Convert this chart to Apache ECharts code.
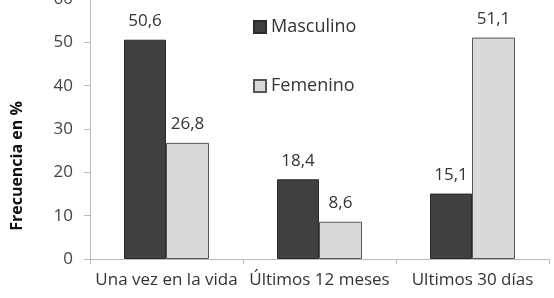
<!DOCTYPE html>
<html><head><meta charset="utf-8">
<script src="https://cdn.jsdelivr.net/npm/echarts@6/dist/echarts.min.js"></script>
<style>html,body{margin:0;padding:0;background:#fff}#c{width:554px;height:298px}</style>
</head><body><div id="c"></div>
<script>
const categories = ['Una vez en la vida', 'Últimos 12 meses', 'Ultimos 30 días'];
const masculino = [50.6, 18.4, 15.1];
const femenino = [26.8, 8.6, 51.1];
const yTicks = [0, 10, 20, 30, 40, 50, 60];
const yTitle = 'Frecuencia en %';
const FONT = '"Open Sans"';
const chart = echarts.init(document.getElementById('c'), null, {renderer: 'canvas'});
const fmt = p => String(p.value).replace('.', ',');
chart.setOption({
  animation: false,
  textStyle: {fontFamily: FONT},
  grid: {left: 90, right: 5, top: -1, bottom: 39, containLabel: false, outerBoundsMode: 'none'},
  legend: {
    orient: 'vertical', left: 253, top: 18, padding: 0, itemGap: 41,
    itemWidth: 12, itemHeight: 12, icon: 'rect',
    textStyle: {fontFamily: FONT, fontSize: 18, color: '#333'},
    data: ['Masculino', 'Femenino']
  },
  graphic: [{
    type: 'text', x: 17, y: 166, rotation: Math.PI / 2,
    style: {text: yTitle, fontFamily: FONT, fontSize: 16, fontWeight: 'bold', fill: '#111',
            align: 'center', verticalAlign: 'middle'}
  }],
  xAxis: {
    type: 'category', data: categories,
    axisLine: {lineStyle: {color: '#bbb'}},
    axisTick: {show: true, length: 5, lineStyle: {color: '#bbb'}},
    axisLabel: {fontFamily: FONT, fontSize: 17, color: '#333', margin: 13, interval: 0}
  },
  yAxis: {
    type: 'value', min: yTicks[0], max: yTicks[yTicks.length - 1], interval: 10,
    axisLine: {show: true, lineStyle: {color: '#bbb'}},
    axisTick: {show: true, length: 6, lineStyle: {color: '#bbb'}},
    splitLine: {show: false},
    axisLabel: {fontFamily: FONT, fontSize: 17, color: '#444', margin: 17}
  },
  series: [
    {
      name: 'Masculino', type: 'bar', data: masculino, barWidth: 42, barGap: '0%',
      itemStyle: {color: '#404040', borderColor: '#2a2a2a', borderWidth: 1},
      label: {show: true, position: 'top', distance: 10, formatter: fmt, fontFamily: FONT, fontSize: 17, color: '#333'}
    },
    {
      name: 'Femenino', type: 'bar', data: femenino, barWidth: 43,
      itemStyle: {color: '#d9d9d9', borderColor: '#555', borderWidth: 1},
      label: {show: true, position: 'top', distance: 10, formatter: fmt, fontFamily: FONT, fontSize: 17, color: '#333'}
    }
  ]
});
</script></body></html>
